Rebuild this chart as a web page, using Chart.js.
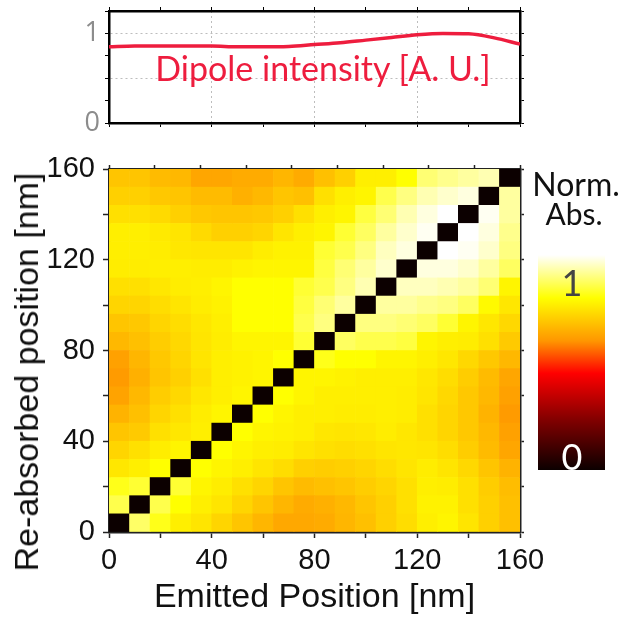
<!DOCTYPE html>
<html>
<head>
<meta charset="utf-8">
<script src="https://cdn.jsdelivr.net/npm/chart.js@4.4.0/dist/chart.umd.min.js"></script>
<style>
  body { margin: 0; background: #fff; }
  #page { position: relative; width: 619px; height: 619px; overflow: hidden; }
  #dipoleCanvas { position: absolute; left: 0; top: 0; }
  #mapCanvas { position: absolute; left: 0; top: 140px; }
  .note { position: absolute; white-space: nowrap; font-family: Lato, 'Open Sans', sans-serif; line-height: 1; transform: translate(-50%, -50%); }
  #dipoleLabel { left: 323px; top: 68px; font-size: 34px; color: #ee1d3e; }
  #normLabel { left: 576px; top: 184px; font-size: 32px; color: #111; }
  #absLabel { left: 574px; top: 213px; font-size: 30px; color: #111; }
  #yTitle { left: 26px; top: 372px; font-family: 'Liberation Sans', Arial, sans-serif; font-size: 34px; color: #111;
            transform: translate(-50%, -50%) rotate(-90deg); }
  #cbar { position: absolute; left: 538px; top: 255px; width: 67px; height: 215px; }
  #cbOne { left: 572px; top: 282px; font-size: 36px; color: #444; }
  #cbZero { left: 572px; top: 456px; font-size: 36px; color: #fff; }
</style>
</head>
<body>
<div id="page">
  <canvas id="dipoleCanvas" width="619" height="140"></canvas>
  <canvas id="mapCanvas" width="619" height="479"></canvas>
  <div class="note" id="dipoleLabel">Dipole intensity [A. U.]</div>
  <div class="note" id="yTitle">Re-absorbed position [nm]</div>
  <div class="note" id="normLabel">Norm.</div>
  <div class="note" id="absLabel">Abs.</div>
  <div id="cbar"></div>
  <div class="note" id="cbOne">1</div>
  <div class="note" id="cbZero">0</div>
</div>
<script>
// dipole intensity along the wire
const dipolePos = [0, 10, 20, 30, 40, 50, 60, 70, 80, 90, 100, 110, 120, 130, 140, 150, 160];
const dipoleIntensity = [0.85, 0.86, 0.86, 0.86, 0.86, 0.85, 0.85, 0.855, 0.875, 0.895, 0.925, 0.955, 0.985, 1.0, 0.995, 0.95, 0.88];

// 8 nm bins (start of each bin) for both emitted and re-absorbed position
const binStart = [0, 8, 16, 24, 32, 40, 48, 56, 64, 72, 80, 88, 96, 104, 112, 120, 128, 136, 144, 152];
const binNm = 8;

// normalised absorption, rows from 152-160 nm (top) down to 0-8 nm, columns = emitted bin
const absRows = [
  [0.69, 0.69, 0.67, 0.665, 0.63, 0.63, 0.64, 0.64, 0.66, 0.64, 0.68, 0.71, 0.77, 0.77, 0.80, 0.89, 0.91, 0.925, 0.94, 0],
  [0.71, 0.71, 0.695, 0.69, 0.67, 0.67, 0.65, 0.665, 0.69, 0.68, 0.74, 0.77, 0.78, 0.86, 0.90, 0.94, 0.96, 0.975, 0, 0.925],
  [0.74, 0.74, 0.73, 0.71, 0.695, 0.69, 0.69, 0.695, 0.71, 0.74, 0.77, 0.78, 0.85, 0.89, 0.94, 0.975, 1.0, 0, 0.99, 0.925],
  [0.77, 0.77, 0.76, 0.75, 0.73, 0.71, 0.71, 0.72, 0.75, 0.77, 0.78, 0.84, 0.875, 0.925, 0.96, 0.99, 0, 1.0, 0.975, 0.91],
  [0.77, 0.77, 0.765, 0.755, 0.75, 0.75, 0.75, 0.765, 0.775, 0.775, 0.84, 0.86, 0.90, 0.95, 0.975, 0, 1.0, 0.99, 0.96, 0.90],
  [0.765, 0.765, 0.77, 0.77, 0.765, 0.765, 0.775, 0.78, 0.78, 0.78, 0.85, 0.89, 0.925, 0.96, 0, 0.975, 0.975, 0.96, 0.925, 0.875],
  [0.74, 0.74, 0.755, 0.765, 0.77, 0.78, 0.80, 0.80, 0.80, 0.84, 0.86, 0.90, 0.94, 0, 0.95, 0.95, 0.94, 0.925, 0.89, 0.78],
  [0.72, 0.72, 0.735, 0.75, 0.765, 0.775, 0.80, 0.80, 0.80, 0.85, 0.89, 0.925, 0, 0.925, 0.925, 0.91, 0.90, 0.875, 0.79, 0.755],
  [0.69, 0.695, 0.72, 0.735, 0.755, 0.77, 0.80, 0.80, 0.80, 0.86, 0.90, 0, 0.90, 0.90, 0.89, 0.875, 0.84, 0.78, 0.755, 0.725],
  [0.665, 0.68, 0.705, 0.725, 0.75, 0.765, 0.78, 0.78, 0.78, 0.84, 0, 0.875, 0.86, 0.86, 0.85, 0.78, 0.77, 0.765, 0.74, 0.70],
  [0.62, 0.66, 0.695, 0.72, 0.75, 0.77, 0.775, 0.78, 0.80, 0, 0.82, 0.80, 0.80, 0.78, 0.78, 0.77, 0.755, 0.725, 0.695, 0.665],
  [0.61, 0.65, 0.69, 0.71, 0.74, 0.77, 0.775, 0.78, 0, 0.78, 0.78, 0.775, 0.77, 0.77, 0.77, 0.755, 0.735, 0.705, 0.67, 0.63],
  [0.625, 0.665, 0.705, 0.725, 0.755, 0.77, 0.78, 0, 0.80, 0.78, 0.77, 0.77, 0.77, 0.77, 0.765, 0.75, 0.725, 0.695, 0.665, 0.62],
  [0.655, 0.68, 0.72, 0.74, 0.765, 0.78, 0, 0.80, 0.78, 0.77, 0.77, 0.765, 0.765, 0.77, 0.765, 0.74, 0.72, 0.695, 0.655, 0.61],
  [0.69, 0.70, 0.74, 0.755, 0.77, 0, 0.80, 0.78, 0.775, 0.77, 0.755, 0.75, 0.755, 0.765, 0.755, 0.74, 0.72, 0.695, 0.665, 0.62],
  [0.72, 0.74, 0.765, 0.78, 0, 0.80, 0.78, 0.77, 0.765, 0.75, 0.74, 0.735, 0.74, 0.75, 0.755, 0.75, 0.735, 0.705, 0.67, 0.63],
  [0.755, 0.77, 0.80, 0, 0.80, 0.78, 0.77, 0.75, 0.735, 0.71, 0.705, 0.71, 0.72, 0.735, 0.75, 0.765, 0.75, 0.725, 0.69, 0.655],
  [0.82, 0.84, 0, 0.84, 0.78, 0.765, 0.74, 0.72, 0.69, 0.67, 0.68, 0.69, 0.705, 0.72, 0.74, 0.77, 0.765, 0.74, 0.705, 0.675],
  [0.86, 0, 0.86, 0.80, 0.77, 0.75, 0.72, 0.69, 0.66, 0.64, 0.65, 0.665, 0.69, 0.71, 0.74, 0.775, 0.775, 0.74, 0.71, 0.68],
  [0, 0.88, 0.82, 0.77, 0.75, 0.72, 0.69, 0.66, 0.635, 0.635, 0.64, 0.66, 0.68, 0.71, 0.735, 0.77, 0.78, 0.75, 0.71, 0.68]
];

// "hot" style colour map: black -> red -> orange -> yellow -> white
const cmapStops = [
  [0, [12, 0, 0]],
  [0.23, [128, 0, 0]],
  [0.45, [255, 0, 0]],
  [0.6, [255, 150, 0]],
  [0.8, [255, 255, 0]],
  [1, [255, 255, 255]]
];

function hot(v) {
  for (let i = 1; i < cmapStops.length; i++) {
    const [v1, c1] = cmapStops[i];
    if (v <= v1) {
      const [v0, c0] = cmapStops[i - 1];
      const t = (v - v0) / (v1 - v0);
      const c = c0.map((a, k) => Math.round(a + (c1[k] - a) * t));
      return 'rgb(' + c.join(',') + ')';
    }
  }
  return 'rgb(255,255,255)';
}

/* colour bar */
document.getElementById('cbar').style.background =
  'linear-gradient(to top, ' + cmapStops.map(([v, c]) => 'rgb(' + c.join(',') + ') ' + (v * 100) + '%').join(', ') + ')';

const ARIAL = "'Liberation Sans', Arial, sans-serif";
const RED = '#ee1d3e';
const FRAME = '#222';

// fixed axis sizes so both plots line up
const fixW = w => s => { s.width = w; };
const fixH = h => s => { s.height = h; };

/* top plot: dipole intensity */
const dashGrid = vals => ctx => (ctx.tick && vals.includes(ctx.tick.value)) ? '#bdbdbd' : 'rgba(0,0,0,0)';

new Chart(document.getElementById('dipoleCanvas'), {
  type: 'line',
  data: {
    datasets: [{
      data: dipolePos.map((x, i) => ({ x: x, y: dipoleIntensity[i] })),
      borderColor: RED,
      borderWidth: 3.5,
      pointRadius: 0,
      tension: 0.4,
      cubicInterpolationMode: 'monotone'
    }]
  },
  options: {
    responsive: false,
    animation: false,
    layout: { autoPadding: false, padding: { left: 0, right: 93, top: 5, bottom: 0 } },
    plugins: { legend: { display: false }, tooltip: { enabled: false } },
    scales: {
      x: {
        type: 'linear', min: 0, max: 160, afterFit: fixH(17),
        ticks: { stepSize: 20, display: false },
        grid: { color: dashGrid([40, 80, 120]), tickColor: '#000', tickLength: 4 },
        border: { color: '#000', width: 2.5, dash: [2, 3] }
      },
      x2: {
        type: 'linear', position: 'top', min: 0, max: 160, afterFit: fixH(6),
        ticks: { stepSize: 20, display: false },
        grid: { drawOnChartArea: false, tickColor: '#000', tickLength: 4 },
        border: { color: '#000', width: 2.5 }
      },
      y: {
        type: 'linear', min: 0, max: 1.25, afterFit: fixW(109),
        ticks: {
          stepSize: 0.25, autoSkip: false, padding: 5, color: '#8c8c8c',
          // small line height keeps the labels from padding the plot area
          font: { family: "'Open Sans', sans-serif", size: 27, lineHeight: 0.4 },
          callback: v => (v === 0 || v === 1) ? String(v) : ''
        },
        grid: { color: dashGrid([0.5, 1]), tickColor: '#000', tickLength: 4 },
        border: { color: '#000', width: 2.5, dash: [2, 3] }
      },
      y2: {
        type: 'linear', position: 'right', min: 0, max: 1.25, afterFit: fixW(6),
        ticks: { stepSize: 0.25, display: false },
        grid: { drawOnChartArea: false, tickColor: '#000', tickLength: 4 },
        border: { color: '#000', width: 2.5 }
      }
    }
  }
});

/* heat map: one floating bar per 8 nm x 8 nm cell */
const cells = [];
absRows.forEach((row, r) => {
  const y0 = binStart[binStart.length - 1 - r];
  row.forEach((v, c) => {
    cells.push({ x: binStart[c] + binNm / 2, y: [y0, y0 + binNm], v: v });
  });
});

const tickFont = { family: ARIAL, size: 29 };
const titleFont = { family: ARIAL, size: 34, lineHeight: 1.2 };

new Chart(document.getElementById('mapCanvas'), {
  type: 'bar',
  data: {
    datasets: [{
      data: cells,
      backgroundColor: ctx => hot(ctx.raw ? ctx.raw.v : 1),
      borderWidth: 0,
      barPercentage: 1,
      categoryPercentage: 1
    }]
  },
  options: {
    responsive: false,
    animation: false,
    layout: { autoPadding: false, padding: { left: 0, right: 93, top: 23, bottom: 0 } },
    plugins: { legend: { display: false }, tooltip: { enabled: false } },
    scales: {
      x: {
        type: 'linear', min: 0, max: 160, offset: false, afterFit: fixH(87),
        ticks: {
          stepSize: 20, autoSkip: false, maxRotation: 0, padding: 6, color: '#111', font: tickFont,
          callback: v => v % 40 === 0 ? String(v) : ''
        },
        grid: { drawOnChartArea: false, offset: false, tickColor: FRAME, tickLength: 6, tickWidth: 1.5 },
        border: { color: FRAME, width: 2.5 },
        title: { display: true, text: 'Emitted Position [nm]', color: '#111', font: titleFont, padding: { top: 0, bottom: 1 } }
      },
      x2: {
        type: 'linear', position: 'top', min: 0, max: 160, afterFit: fixH(6),
        ticks: { stepSize: 20, display: false },
        grid: { drawOnChartArea: false, tickColor: FRAME, tickLength: 4, tickWidth: 1.5 },
        border: { color: FRAME, width: 2.5 }
      },
      y: {
        type: 'linear', min: 0, max: 160, afterFit: fixW(109),
        ticks: {
          stepSize: 20, autoSkip: false, padding: 8, color: '#111', font: tickFont,
          callback: v => v % 40 === 0 ? String(v) : ''
        },
        grid: { drawOnChartArea: false, tickColor: FRAME, tickLength: 6, tickWidth: 1.5 },
        border: { color: FRAME, width: 2.5 }
      },
      y2: {
        type: 'linear', position: 'right', min: 0, max: 160, afterFit: fixW(6),
        ticks: { stepSize: 20, display: false },
        grid: { drawOnChartArea: false, tickColor: FRAME, tickLength: 4, tickWidth: 1.5 },
        border: { color: FRAME, width: 2.5 }
      }
    }
  }
});
</script>
</body>
</html>
